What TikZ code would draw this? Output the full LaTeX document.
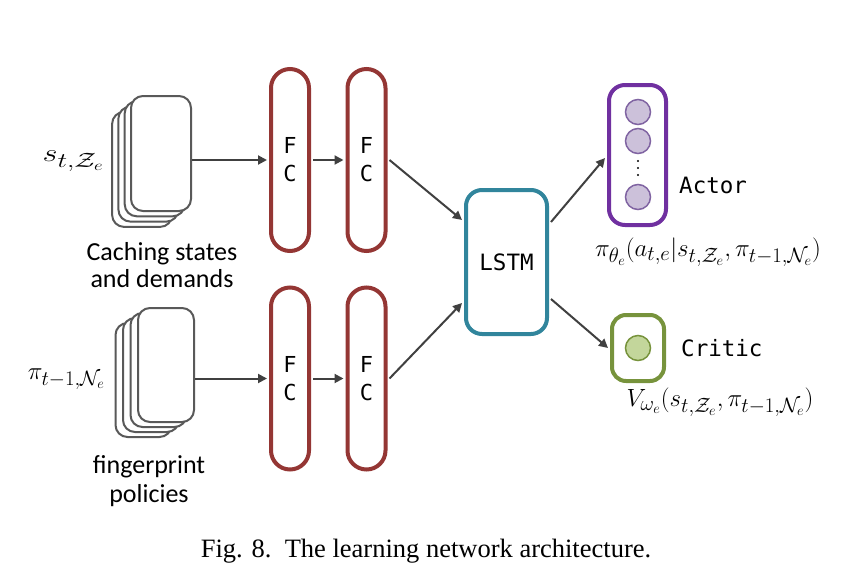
\documentclass[tikz,border=0pt]{standalone}
\usepackage{fontspec}
\usetikzlibrary{arrows.meta}
\newfontfamily\calfont{Carlito}
\newfontfamily\monofont{DejaVu Sans Mono}
\newfontfamily\capfont{Liberation Serif}
\definecolor{fcred}{HTML}{943634}
\definecolor{lstmblue}{HTML}{31859C}
\definecolor{actpurple}{HTML}{7030A0}
\definecolor{actfill}{HTML}{CCC1DA}
\definecolor{actcirc}{HTML}{8064A2}
\definecolor{crgreen}{HTML}{77933C}
\definecolor{crfill}{HTML}{C3D69B}
\definecolor{stackgray}{HTML}{595959}
\definecolor{arrgray}{HTML}{404040}
\begin{document}
\begin{tikzpicture}[x=1pt,y=-1pt,
  fcbox/.style={draw=fcred, line width=4pt, rounded corners=19pt, minimum width=38pt, minimum height=182pt, inner sep=0pt, align=center, font=\monofont\fontsize{22}{28}\selectfont},
  lstmbox/.style={draw=lstmblue, line width=4pt, rounded corners=16pt, minimum width=81pt, minimum height=144pt, inner sep=0pt, font=\monofont\fontsize{22.5}{27}\selectfont},
  actbox/.style={draw=actpurple, line width=4pt, rounded corners=16pt, minimum width=57pt, minimum height=140pt, inner sep=0pt},
  crbox/.style={draw=crgreen, line width=4pt, rounded corners=14pt, minimum width=52pt, minimum height=66pt, inner sep=0pt},
  actneuron/.style={circle, draw=actcirc, fill=actfill, line width=1.5pt, minimum size=25pt, inner sep=0pt},
  crneuron/.style={circle, draw=crgreen, fill=crfill, line width=1.5pt, minimum size=25pt, inner sep=0pt},
  sheet/.style={draw=stackgray, fill=white, line width=2pt, rounded corners=12pt, inner sep=0pt},
  conn/.style={draw=arrgray, line width=2pt, -{Triangle[length=9pt,width=9pt]}},
  lbl/.style={font=\monofont\fontsize{22.5}{27}\selectfont, inner sep=0pt},
  mathlbl/.style={font=\fontsize{27.5}{32}\selectfont, inner sep=0pt},
  txt/.style={font=\calfont\fontsize{26}{28}\selectfont, inner sep=0pt, anchor=base}
]
\useasboundingbox (0,0) rectangle (844,574);

% top stack
\foreach \k in {3,2,1} {
  \node[sheet, minimum width=60pt, minimum height=115pt] (sa\k) at (161-6.3*\k,153.5+5.3*\k) {};
}
\node[sheet, minimum width=60pt, minimum height=115pt] (s1) at (161,153.5) {};
% bottom stack
\foreach \k in {3,2,1} {
  \node[sheet, minimum width=56pt, minimum height=114pt] (sb\k) at (166-7.5*\k,365+5*\k) {};
}
\node[sheet, minimum width=56pt, minimum height=114pt] (s2) at (166,365) {};

% FC layers
\node[fcbox] (f1) at (290,160) {F\\C};
\node[fcbox] (f2) at (366.5,160) {F\\C};
\node[fcbox] (f3) at (290,378.5) {F\\C};
\node[fcbox] (f4) at (366.5,378.5) {F\\C};

% LSTM
\node[lstmbox] (lstm) at (506.5,262) {LSTM};

% Actor
\node[actbox] (act) at (637.5,155) {};
\node[actneuron] (a1) at (638,112) {};
\node[actneuron] (a2) at (638,141) {};
\node[actneuron] (a3) at (638,197) {};
\foreach \yy in {161,168,175} { \fill[black] (638,\yy) circle (1.1pt); }

% Critic
\node[crbox] (cr) at (638,348) {};
\node[crneuron] (c1) at (638,348) {};

% connectors
\draw[conn] (s1.east |- f1.west) -- ([xshift=-2pt]f1.west);
\draw[conn] (s2.east |- f3.west) -- ([xshift=-2pt]f3.west);
\draw[conn] ([xshift=2pt]f1.east) -- ([xshift=-2pt]f2.west);
\draw[conn] ([xshift=2pt]f3.east) -- ([xshift=-2pt]f4.west);
\draw[conn] ([xshift=2pt]f2.east) -- ([xshift=-2pt,yshift=42pt]lstm.west);
\draw[conn] ([xshift=2pt]f4.east) -- ([xshift=-2pt,yshift=-41pt]lstm.west);
\draw[conn] ([xshift=2pt,yshift=40pt]lstm.east) -- ([xshift=-2pt,yshift=-3pt]act.west);
\draw[conn] ([xshift=2pt,yshift=-37pt]lstm.east) -- ([xshift=-2pt]cr.west);

% labels
\node[mathlbl, anchor=east] (ls) at (104,161) {\scalebox{1.3}[1]{$s_{t,\mathcal{Z}_e}$}};
\node[mathlbl, anchor=east] (lp) at (105,379) {$\pi_{t-1,\mathcal{N}_e}$};
\node[txt] (tcache1) at (162,260) {Caching states};
\node[txt] (tcache2) at (162,287) {and demands};
\node[txt] (tfing1) at (149,473) {fingerprint};
\node[txt] (tfing2) at (149,502) {policies};
\node[lbl, anchor=west] (tact) at (679,185) {Actor};
\node[lbl, anchor=west] (tcr) at (681,348) {Critic};
\node[mathlbl] (fpi) at (708,252) {$\pi_{\theta_e}(a_{t,e}|s_{t,\mathcal{Z}_e},\pi_{t-1,\mathcal{N}_e})$};
\node[mathlbl] (fv) at (720,402) {$V_{\omega_e}(s_{t,\mathcal{Z}_e},\pi_{t-1,\mathcal{N}_e})$};

% caption
\node[font=\capfont\fontsize{26.5}{30}\selectfont, inner sep=0pt, anchor=base] (cap) at (426,557) {Fig. 8.\enspace The learning network architecture.};
\end{tikzpicture}
\end{document}
